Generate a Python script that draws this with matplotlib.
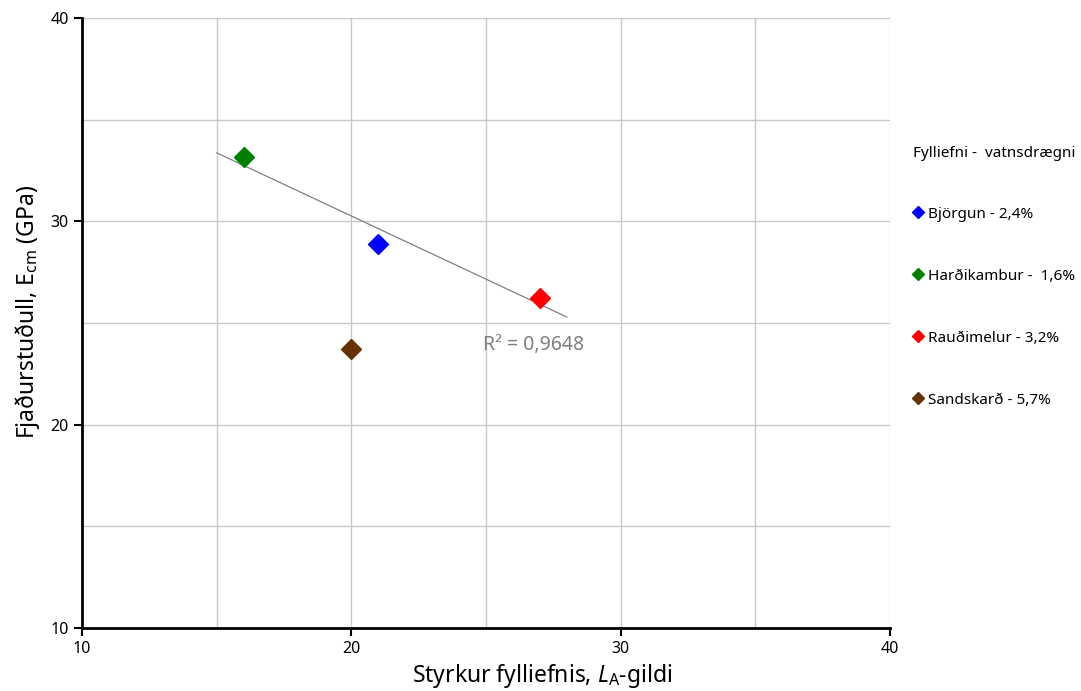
import numpy as np
import matplotlib as mpl
import matplotlib.pyplot as plt
from matplotlib.ticker import MultipleLocator

# fonts etc.
# ----------
mpl.rcParams.update({
    "font.family": "Noto Sans",
    "mathtext.fontset": "custom",
    "mathtext.rm": "Noto Sans",
    "mathtext.it": "Noto Sans:italic",
    "mathtext.default": "regular",
})

# data: aggregate strength (L_A value) vs. modulus of elasticity
# --------------------------------------------------------------
names = ["Björgun - 2,4%", "Harðikambur -  1,6%", "Rauðimelur - 3,2%", "Sandskarð - 5,7%"]
la_value = [21, 16, 27, 20]
e_cm = [28.9, 33.15, 26.25, 23.7]
colors = ["#0000ff", "#008000", "#ff0000", "#663300"]

# points used for the linear trendline (Sandskarð left out)
trend_idx = [0, 1, 2]
trend_range = [15, 28]

fig = plt.figure(figsize=(10.81, 6.91), dpi=100)
ax = fig.add_axes([0.0759, 0.0912, 0.7474, 0.8828])

# gridlines every 5, labels every 10
ax.set_xlim(10, 40)
ax.set_ylim(10, 40)
ax.xaxis.set_major_locator(MultipleLocator(10))
ax.yaxis.set_major_locator(MultipleLocator(10))
ax.xaxis.set_minor_locator(MultipleLocator(5))
ax.yaxis.set_minor_locator(MultipleLocator(5))
ax.grid(which="both", color="#c8c8c8", linewidth=1.0)
ax.set_axisbelow(True)
ax.tick_params(which="minor", length=0)
ax.tick_params(which="major", length=6, width=1.5, labelsize=11.5, direction="out")

for side in ["top", "right"]:
    ax.spines[side].set_visible(False)
for side in ["left", "bottom"]:
    ax.spines[side].set_linewidth(2.0)

# trendline + R^2
xt = np.array([la_value[i] for i in trend_idx], dtype=float)
yt = np.array([e_cm[i] for i in trend_idx], dtype=float)
slope, icept = np.polyfit(xt, yt, 1)
xl = np.array(trend_range, dtype=float)
ax.plot(xl, slope * xl + icept, color="#808080", linewidth=0.9, zorder=2)
ax.text(26.75, 23.9, "R² = 0,9648", color="#808080", fontsize=14,
        ha="center", va="center")

# data points
for name, x, y, c in zip(names, la_value, e_cm, colors):
    ax.plot(x, y, "D", color=c, markersize=10, label=name, zorder=3,
            linestyle="None")

# labels (both sit a bit off-centre)
ax.set_xlabel(r"Styrkur fylliefnis, $\mathit{L}_{A}$-gildi", fontsize=16.5, labelpad=3)
ax.xaxis.set_label_coords(0.569, -0.055)
ax.set_ylabel(r"Fjaðurstuðull, E$_{cm}$ (GPa)", fontsize=16.5)
ax.yaxis.set_label_coords(-0.049, 0.518)

# legend
handles, labels = ax.get_legend_handles_labels()
leg = fig.legend(handles, labels, loc="upper left", bbox_to_anchor=(0.832, 0.808),
                 title="Fylliefni -  vatnsdrægni", title_fontsize=11,
                 fontsize=11, frameon=False, markerscale=0.6,
                 handlelength=0.6, handletextpad=0.35, labelspacing=3.08,
                 alignment="left", numpoints=1)
leg._legend_box.sep = 32.5

fig.patch.set_facecolor("white")
fig.savefig("out.png", dpi=100)
